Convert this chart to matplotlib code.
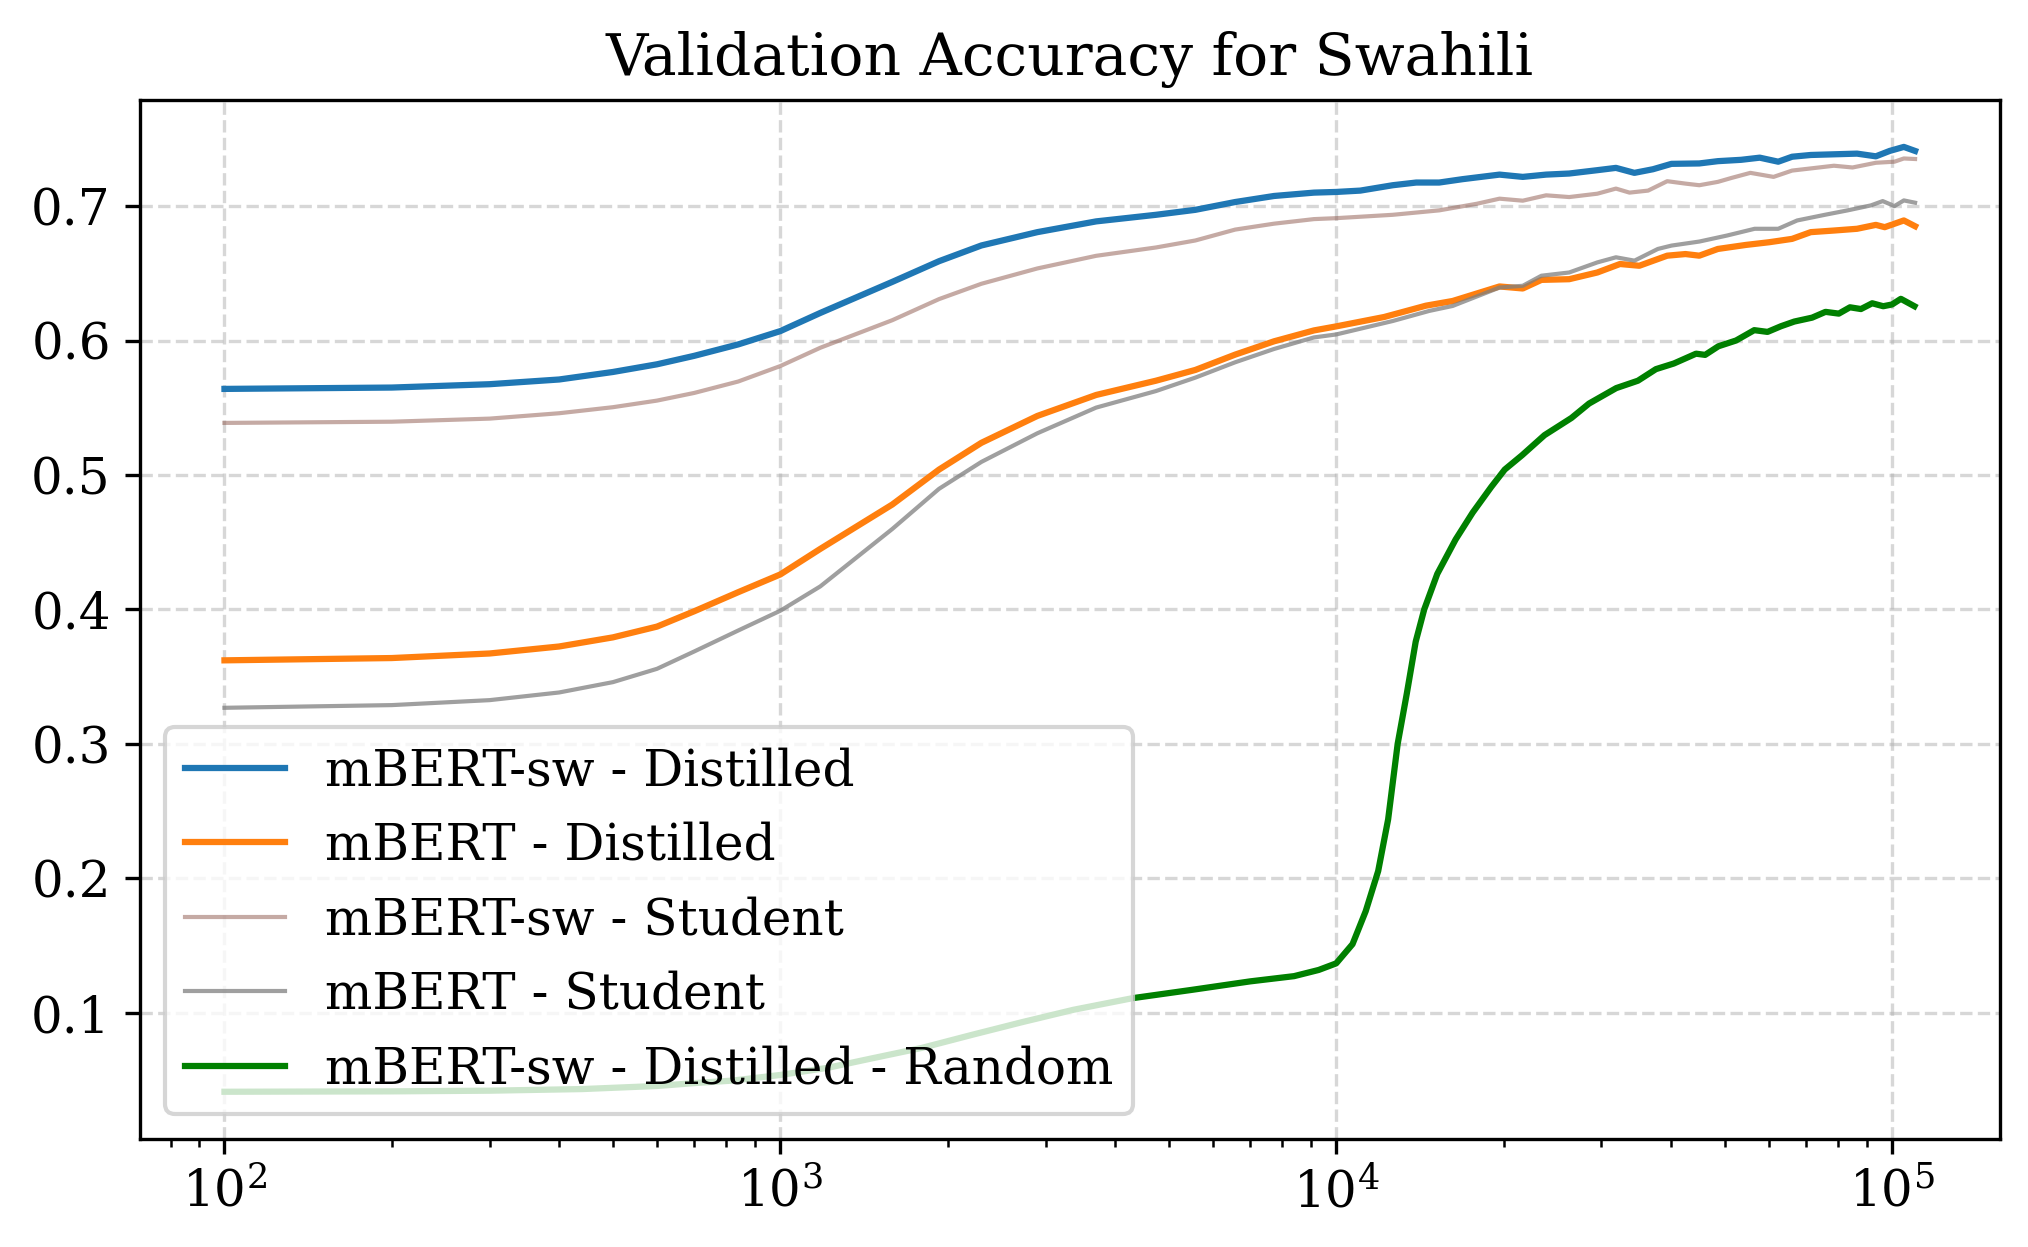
import matplotlib
matplotlib.use("Agg")
import matplotlib.pyplot as plt

plt.rcParams['font.family'] = 'DejaVu Serif'
plt.rcParams['mathtext.fontset'] = 'dejavuserif'

# values (training steps, validation accuracy)
sw_dist_x = [100, 200, 300, 400, 500, 600, 700, 840, 1000, 1180, 1590, 1930, 2300, 2900, 3700,
             4740, 5580, 6580, 7730, 9120, 10000, 11050, 12640, 13930, 15320, 16870, 19670, 21660,
             23860, 26250, 29500, 31860, 34390, 37150, 40100, 45000, 48600, 53500, 57800, 62400,
             66100, 71400, 78600, 86500, 93500, 99000, 105000, 110000]
sw_dist_y = [0.564, 0.565, 0.5675, 0.571, 0.5766, 0.5823, 0.5886, 0.5971, 0.607, 0.6205, 0.6436,
             0.659, 0.6707, 0.6806, 0.6886, 0.6935, 0.6972, 0.7030, 0.7075, 0.7100, 0.7105, 0.7115,
             0.7155, 0.7175, 0.7175, 0.7200, 0.7234, 0.7217, 0.7234, 0.7242, 0.7267, 0.7284, 0.7247,
             0.7274, 0.7314, 0.7317, 0.7334, 0.7344, 0.7360, 0.7330, 0.7367, 0.7380, 0.7385, 0.7390,
             0.7370, 0.7410, 0.7440, 0.7410]

mb_dist_x = [100, 200, 300, 400, 500, 600, 700, 840, 1000, 1180, 1590, 1930, 2300, 2900, 3700, 4740,
             5580, 6580, 7730, 9120, 10000, 12200, 14500, 16200, 19670, 21660, 23400, 26250, 29500,
             32400, 35100, 39400, 42500, 45000, 48600, 54600, 60100, 66100, 71400, 78600, 86500,
             93500, 97000, 105000, 110000]
mb_dist_y = [0.3621, 0.3638, 0.3672, 0.3724, 0.3792, 0.3872, 0.3986, 0.4128, 0.426, 0.445, 0.478, 0.504,
             0.5239, 0.5439, 0.5595, 0.5701, 0.5781, 0.5895, 0.5994, 0.6075, 0.6105, 0.6175, 0.6259,
             0.6294, 0.6402, 0.6387, 0.6451, 0.6456, 0.6506, 0.6569, 0.6556, 0.6631, 0.6643, 0.6631,
             0.6681, 0.6711, 0.6731, 0.6756, 0.6806, 0.6818, 0.6831, 0.6860, 0.6843, 0.6893, 0.6850]

sw_stud_x = [100, 200, 300, 400, 500, 600, 700, 840, 1000, 1180, 1590, 1930, 2300, 2900, 3700,
             4740, 5580, 6580, 7730, 9120, 10000, 12640, 15320, 17900, 19670, 21660, 23860, 26250,
             29500, 31860, 33700, 36400, 39400, 42500, 45000, 48600, 51500, 55600, 61200, 66100,
             71400, 78600, 84900, 93500, 101000, 105000, 110000]
sw_stud_y = [0.5387, 0.5396, 0.5419, 0.5459, 0.5504, 0.5553, 0.561, 0.5695, 0.581, 0.5946, 0.6151,
             0.6308, 0.6422, 0.6536, 0.663, 0.6692, 0.6744, 0.6825, 0.6869, 0.6903, 0.691, 0.6935,
             0.6968, 0.7017, 0.7055, 0.7040, 0.7080, 0.7067, 0.7092, 0.7130, 0.7100, 0.7115, 0.7185,
             0.7167, 0.7155, 0.7180, 0.7210, 0.7247, 0.7217, 0.7264, 0.7280, 0.7300, 0.7287, 0.7322,
             0.7330, 0.7354, 0.7350]

mb_stud_x = [100, 200, 300, 400, 500, 600, 700, 840, 1000, 1180, 1590, 1930, 2300, 2900, 3700, 4740,
             5580, 6580, 7730, 9120, 10000, 12640, 14700, 16200, 19670, 21660, 23400, 26250, 29500,
             31860, 34400, 37900, 40100, 45000, 50500, 56600, 62400, 67500, 75700, 83200, 91600,
             96200, 101000, 105000, 110000]
mb_stud_y = [0.3268, 0.3288, 0.3325, 0.3382, 0.3459, 0.3558, 0.3687, 0.3843, 0.3990, 0.4171, 0.4598,
             0.4897, 0.5097, 0.531, 0.5501, 0.5624, 0.5724, 0.5838, 0.5937, 0.6023, 0.6045, 0.6145,
             0.6220, 0.6257, 0.6394, 0.6407, 0.6482, 0.6506, 0.6581, 0.6619, 0.6594, 0.6681, 0.6706,
             0.6736, 0.6781, 0.6831, 0.6831, 0.6893, 0.6935, 0.6968, 0.7005, 0.7037, 0.7000, 0.7042,
             0.7025]

rand_x = [100, 200, 300, 440, 600, 720, 820, 1000, 1220, 1460, 1800, 2220, 2730, 3370, 4300, 5500,
          7000, 8400, 9300, 10000, 10700, 11300, 11900, 12400, 12900, 13400, 13900, 14400, 15200,
          16400, 17600, 19000, 20100, 21600, 23700, 26500, 28500, 31900, 34900, 37600, 40500, 44400,
          46100, 48700, 52400, 56500, 59700, 63100, 66700, 71800, 75900, 80200, 84000, 87900, 92100,
          96400, 100000, 103700, 109700]
rand_y = [0.0412, 0.0415, 0.042, 0.0432, 0.0455, 0.048, 0.0495, 0.0537, 0.0591, 0.066, 0.0739, 0.0837,
          0.0931, 0.1022, 0.1108, 0.117, 0.1233, 0.1272, 0.1318, 0.1367, 0.151, 0.1755, 0.2054, 0.2438,
          0.30, 0.3376, 0.376, 0.40, 0.4264, 0.452, 0.472, 0.491, 0.504, 0.5147, 0.5296, 0.5424, 0.5531,
          0.5646, 0.5701, 0.5787, 0.5829, 0.5902, 0.5893, 0.5957, 0.600, 0.6077, 0.6064, 0.6106, 0.6141,
          0.617, 0.6213, 0.620, 0.6247, 0.6234, 0.6277, 0.6255, 0.6268, 0.631, 0.6255]

fig = plt.figure(figsize=(6.76, 4.157), dpi=300)
ax = fig.add_subplot(1, 1, 1)
fig.subplots_adjust(left=0.069, right=0.986, bottom=0.0866, top=0.92)

ax.plot(sw_dist_x, sw_dist_y, color='tab:blue', lw=1.5, label='mBERT-sw - Distilled')
ax.plot(mb_dist_x, mb_dist_y, color='tab:orange', lw=1.5, label='mBERT - Distilled')
ax.plot(sw_stud_x, sw_stud_y, color='tab:brown', alpha=0.5, lw=1.0, label='mBERT-sw - Student')
ax.plot(mb_stud_x, mb_stud_y, color='tab:gray', alpha=0.75, lw=1.0, label='mBERT - Student')
ax.plot(rand_x, rand_y, color='green', lw=1.5, label='mBERT-sw - Distilled - Random')

ax.set_xscale('log')
ax.set_title('Validation Accuracy for Swahili', fontsize=14)
ax.tick_params(labelsize=12)
ax.grid(True, linestyle='--', alpha=0.5)
ax.legend(loc='lower left', fontsize=12)

plt.savefig('out.png', dpi=300)
